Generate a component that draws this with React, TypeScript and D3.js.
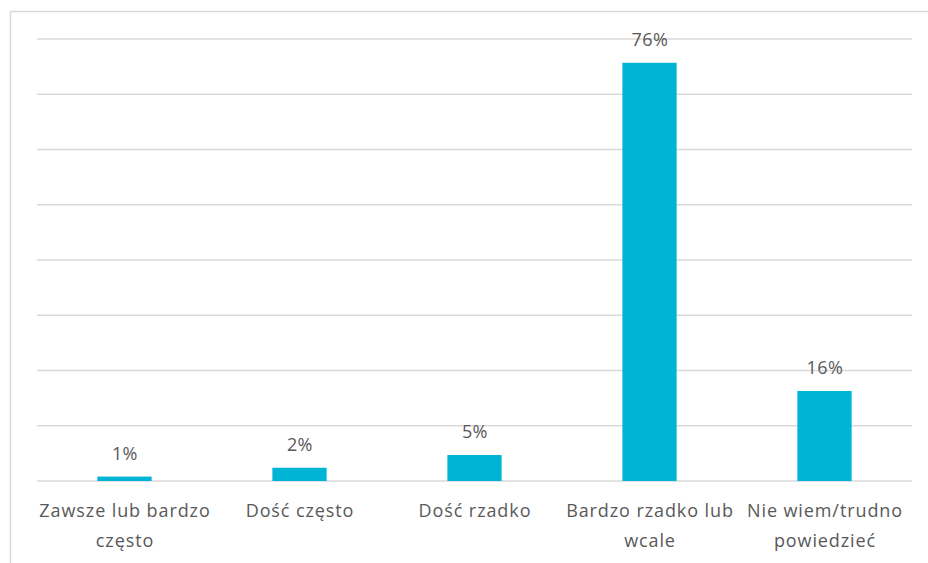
import React from "react";
import * as d3 from "d3";

const categories: string[][] = [
  ["Zawsze lub bardzo", "często"],
  ["Dość często"],
  ["Dość rzadko"],
  ["Bardzo rzadko lub", "wcale"],
  ["Nie wiem/trudno", "powiedzieć"],
];
const values: number[] = [0.8, 2.4, 4.7, 75.7, 16.3];
const valueLabels: string[] = ["1%", "2%", "5%", "76%", "16%"];
const yTicks: number[] = [0, 10, 20, 30, 40, 50, 60, 70, 80];

const W = 928;
const H = 563;
const left = 37;
const right = 912;
const top = 39;
const bottom = 481;

export default function App() {
  const x = d3
    .scaleBand<number>()
    .domain(values.map((_, i) => i))
    .range([left, right])
    .paddingInner(0.69)
    .paddingOuter(0.345);
  const y = d3.scaleLinear().domain([0, 80]).range([bottom, top]);
  const font = "'Open Sans', sans-serif";
  const cx = (i: number) => (x(i) as number) + x.bandwidth() / 2;
  return (
    <svg
      width={W}
      height={H}
      style={{ position: "absolute", left: 0, top: 0 }}
    >
      <rect x={0} y={0} width={W} height={H} fill="#fff" />
      <rect
        x={10.5}
        y={11.5}
        width={1000}
        height={1000}
        fill="none"
        stroke="#d9d9d9"
        strokeWidth={1.5}
      />
      {yTicks.map((t) => (
        <line
          key={t}
          x1={left}
          x2={right}
          y1={y(t)}
          y2={y(t)}
          stroke="#d9d9d9"
          strokeWidth={1.3}
        />
      ))}
      {values.map((v, i) => (
        <rect
          key={i}
          x={x(i)}
          y={y(v)}
          width={x.bandwidth()}
          height={y(0) - y(v)}
          fill="#00b4d6"
        />
      ))}
      {values.map((v, i) => (
        <text
          key={"l" + i}
          x={cx(i) + 0.4}
          y={y(v) - 17}
          textAnchor="middle"
          fontFamily={font}
          fontSize={18}
          letterSpacing={0.4}
          fill="#595959"
        >
          {valueLabels[i]}
        </text>
      ))}
      {categories.map((lines, i) => (
        <text
          key={"c" + i}
          textAnchor="middle"
          fontFamily={font}
          fontSize={18}
          letterSpacing={0.9}
          fill="#595959"
        >
          {lines.map((ln, j) => (
            <tspan key={j} x={cx(i) + 0.5} y={517 + j * 30}>
              {ln}
            </tspan>
          ))}
        </text>
      ))}
    </svg>
  );
}
